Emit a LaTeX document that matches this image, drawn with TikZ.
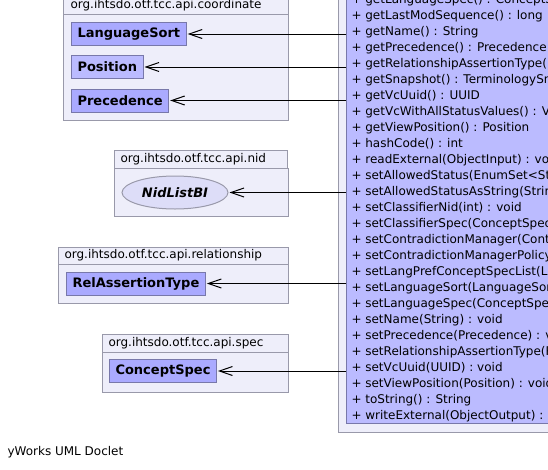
\documentclass[tikz,border=0pt]{standalone}
\usepackage{fontspec}
\setmainfont{DejaVu Sans}
\usetikzlibrary{arrows.meta,shapes.geometric}

\definecolor{pkgfill}{RGB}{238,238,250}
\definecolor{pkgline}{RGB}{153,153,170}
\definecolor{clsfill}{RGB}{170,170,255}
\definecolor{clsline}{RGB}{120,120,170}
\definecolor{bigfill}{RGB}{187,187,255}
\definecolor{ifcfill}{RGB}{221,221,248}

\begin{document}
\begin{tikzpicture}[x=1pt,y=-1pt,semithick,line width=1pt,
      >={Straight Barb[length=13pt,width=9pt]},
      font=\fontsize{12}{16}\selectfont,
      pkg/.style={draw=pkgline,fill=pkgfill},
      pkgtitle/.style={anchor=west,inner sep=0pt},
      cls/.style={draw=clsline,fill=clsfill,anchor=west,minimum height=23pt,
        inner xsep=6pt,font=\fontsize{13}{16}\selectfont\bfseries},
      ifc/.style={ellipse,draw=pkgline,fill=ifcfill,minimum width=106pt,
        minimum height=33pt,font=\fontsize{13}{16}\selectfont\bfseries\itshape},
      dep/.style={->,shorten >=1pt}]
      \useasboundingbox (0,0) rectangle (548,469);
      \clip (0,0) rectangle (548,469);
			% packages
			\draw[pkg] (63,-5) rectangle (288,14);
			\draw[pkg] (63,14) rectangle (288,120);
			\node[pkgtitle] (tcoord) at (70,5) {org.ihtsdo.otf.tcc.api.coordinate};
			\draw[pkg] (114,150) rectangle (287,168);
			\draw[pkg] (114,168) rectangle (288,216);
			\node[pkgtitle] (tnid) at (120,159) {org.ihtsdo.otf.tcc.api.nid};
			\draw[pkg] (58,247) rectangle (288,264);
			\draw[pkg] (58,264) rectangle (288,303);
			\node[pkgtitle] (trel) at (64,255.5) {org.ihtsdo.otf.tcc.api.relationship};
			\draw[pkg] (102,334) rectangle (288,352);
			\draw[pkg] (102,352) rectangle (288,392);
			\node[pkgtitle] (tspec) at (108,343) {org.ihtsdo.otf.tcc.api.spec};
			% classes
			\node[cls] (langsort) at (71,34) {LanguageSort};
			\node[cls,fill=bigfill] (position) at (71,67) {Position};
			\node[cls] (precedence) at (71,100.5) {Precedence};
			\node[ifc] (nidlist) at (175,192.5) {NidListBI};
			\node[cls] (relassert) at (66,283.5) {RelAssertionType};
			\node[cls] (cspec) at (109,371) {ConceptSpec};
			% main class
			\draw[pkg] (338,-5) rectangle (560,432);
			\node[draw=clsline,fill=bigfill,anchor=north west,minimum width=220pt,
			  minimum height=433pt,inner sep=0pt] (main) at (346,-10) {};
			\foreach \op [count=\i from 0] in {
			  getLanguageSpec() : ConceptSpec,
			  getLastModSequence() : long,
			  getName() : String,
			  getPrecedence() : Precedence,
			  getRelationshipAssertionType() : RelAssertionType,
			  getSnapshot() : TerminologySnapshotDI,
			  getVcUuid() : UUID,
			  getVcWithAllStatusValues() : ViewCoordinate,
			  getViewPosition() : Position,
			  hashCode() : int,
			  readExternal(ObjectInput) : void,
			  setAllowedStatus(EnumSet<Status>) : void,
			  setAllowedStatusAsString(String) : void,
			  setClassifierNid(int) : void,
			  setClassifierSpec(ConceptSpec) : void,
			  setContradictionManager(ContradictionManagerBI) : void,
			  setContradictionManagerPolicy(ContradictionManagerPolicy) : void,
			  setLangPrefConceptSpecList(List) : void,
			  setLanguageSort(LanguageSort) : void,
			  setLanguageSpec(ConceptSpec) : void,
			  setName(String) : void,
			  setPrecedence(Precedence) : void,
			  setRelationshipAssertionType(RelAssertionType) : void,
			  setVcUuid(UUID) : void,
			  setViewPosition(Position) : void,
			  toString() : String,
			  writeExternal(ObjectOutput) : void}
			  \node[anchor=west,inner sep=0pt] (op\i) at (351,16*\i) {+ \op};
			% dependencies
			\path[dep]
				(main.west |- langsort) edge (langsort)
				(main.west |- position) edge (position)
				(main.west |- precedence) edge (precedence)
				(main.west |- nidlist) edge (nidlist)
				(main.west |- relassert) edge (relassert)
				(main.west |- cspec) edge (cspec);
			\node[anchor=west,inner sep=0pt] (footer) at (7,452) {yWorks UML Doclet};
		\end{tikzpicture}
\end{document}
